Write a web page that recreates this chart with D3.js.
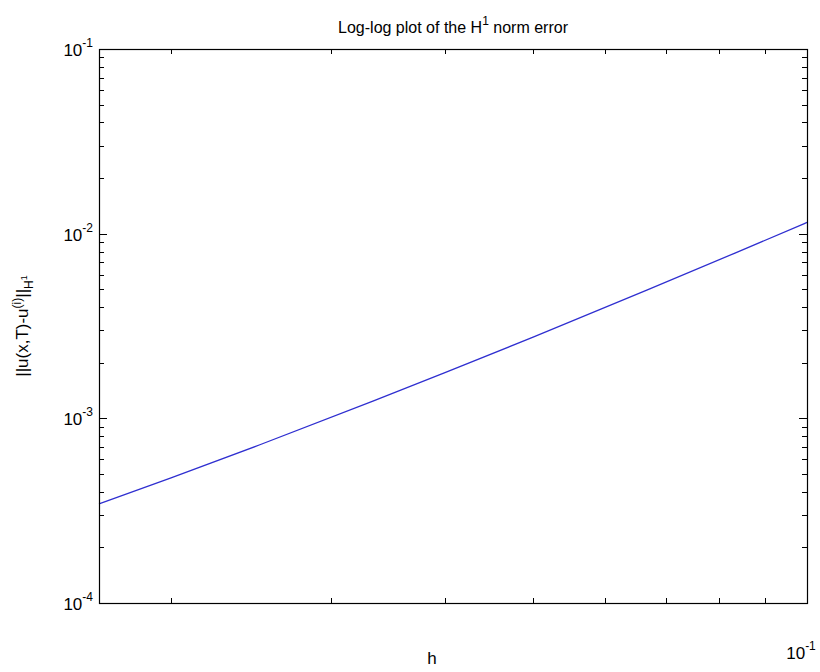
<!DOCTYPE html>
<html>
<head>
<meta charset="utf-8">
<script src="https://cdn.jsdelivr.net/npm/d3@7"></script>
<style>
  html, body { margin: 0; padding: 0; background: #fff; }
  svg { display: block; }
  text { font-family: "Liberation Sans Narrow", "Liberation Sans", Arial, sans-serif; fill: #000; }
</style>
</head>
<body>
<svg id="chart" width="820" height="672"></svg>
<script>
// ---- data ----
const hValues = [1/60, 1/50, 1/40, 1/30, 1/25, 1/20, 1/15, 1/12, 1/10];
const errValues = [3.44e-4, 4.76e-4, 7.17e-4, 1.238e-3, 1.766e-3, 2.75e-3, 4.94e-3, 7.85e-3, 1.15e-2];
const xDomain = [1/60, 1e-1];
const yDomain = [1e-4, 1e-1];
const xMajorExp = [-1];
const yMajorExp = [-4, -3, -2, -1];
const titleText = ["Log-log plot of the H", "1", " norm error"];

// ---- layout ----
const W = 820, H = 672;
const L = 99, R = 807, T = 49, B = 603;
const svg = d3.select("#chart");

const x = d3.scaleLog().domain(xDomain).range([L, R]);
const y = d3.scaleLog().domain(yDomain).range([B, T]);

// ticks
const xTicks = x.ticks(10).filter(v => v >= xDomain[0] * 0.999 && v <= xDomain[1] * 1.001);
const yTicks = y.ticks(30).filter(v => v >= yDomain[0] * 0.999 && v <= yDomain[1] * 1.001);
const isMajor = v => Math.abs(Math.log10(v) - Math.round(Math.log10(v))) < 1e-9;

const tickG = svg.append("g").attr("stroke", "#000").attr("stroke-width", 1);
xTicks.forEach(v => {
  const px = Math.round(x(v)) + 0.5;
  const len = isMajor(v) ? 8 : 5;
  tickG.append("line").attr("x1", px).attr("x2", px).attr("y1", B).attr("y2", B - len);
  tickG.append("line").attr("x1", px).attr("x2", px).attr("y1", T).attr("y2", T + len);
});
yTicks.forEach(v => {
  const py = Math.round(y(v)) + 0.5;
  const len = isMajor(v) ? 8 : 5;
  tickG.append("line").attr("x1", L).attr("x2", L + len).attr("y1", py).attr("y2", py);
  tickG.append("line").attr("x1", R).attr("x2", R - len).attr("y1", py).attr("y2", py);
});

// line
const line = d3.line()
  .x((d, i) => x(hValues[i]))
  .y(d => y(d))
  .curve(d3.curveMonotoneX);
svg.append("path")
  .datum(errValues)
  .attr("fill", "none")
  .attr("stroke", "#2f2fd0")
  .attr("stroke-width", 1.3)
  .attr("d", line);

// box
svg.append("rect")
  .attr("x", L + 0.5).attr("y", T + 0.5)
  .attr("width", R - L).attr("height", B - T)
  .attr("fill", "none").attr("stroke", "#000").attr("stroke-width", 1.2);

// y tick labels
yMajorExp.forEach(e => {
  const py = y(Math.pow(10, e));
  const t = svg.append("text")
    .attr("x", L - 6).attr("y", py + 7)
    .attr("text-anchor", "end")
    .style("font-size", "17px");
  t.append("tspan").text("10");
  t.append("tspan").attr("dy", -9).style("font-size", "12px").text(String(e));
});

// x tick labels
xMajorExp.forEach(e => {
  const px = x(Math.pow(10, e));
  const t = svg.append("text")
    .attr("x", px - 6).attr("y", 659)
    .attr("text-anchor", "middle")
    .style("font-size", "17px");
  t.append("tspan").text("10");
  t.append("tspan").attr("dy", -9).style("font-size", "12px").text(String(e));
});

// title
const tt = svg.append("text")
  .attr("x", (L + R) / 2).attr("y", 33)
  .attr("text-anchor", "middle")
  .style("font-size", "16px");
tt.append("tspan").text(titleText[0]);
tt.append("tspan").attr("dy", -8).style("font-size", "12px").text(titleText[1]);
tt.append("tspan").attr("dy", 8).text(titleText[2]);

// x label
svg.append("text")
  .attr("x", 432).attr("y", 664)
  .attr("text-anchor", "middle")
  .style("font-size", "17px")
  .text("h");

// y label
const yl = svg.append("text")
  .attr("transform", `translate(28, ${(T + B) / 2}) rotate(-90)`)
  .attr("text-anchor", "middle")
  .style("font-size", "17px");
yl.append("tspan").text("||u(x,T)-u");
yl.append("tspan").attr("dy", -7).style("font-size", "12px").text("(i)");
yl.append("tspan").attr("dy", 7).text("||");
yl.append("tspan").attr("dy", 5).style("font-size", "12px").text("H");
yl.append("tspan").attr("dy", -6).style("font-size", "9px").text("1");
</script>
</body>
</html>
